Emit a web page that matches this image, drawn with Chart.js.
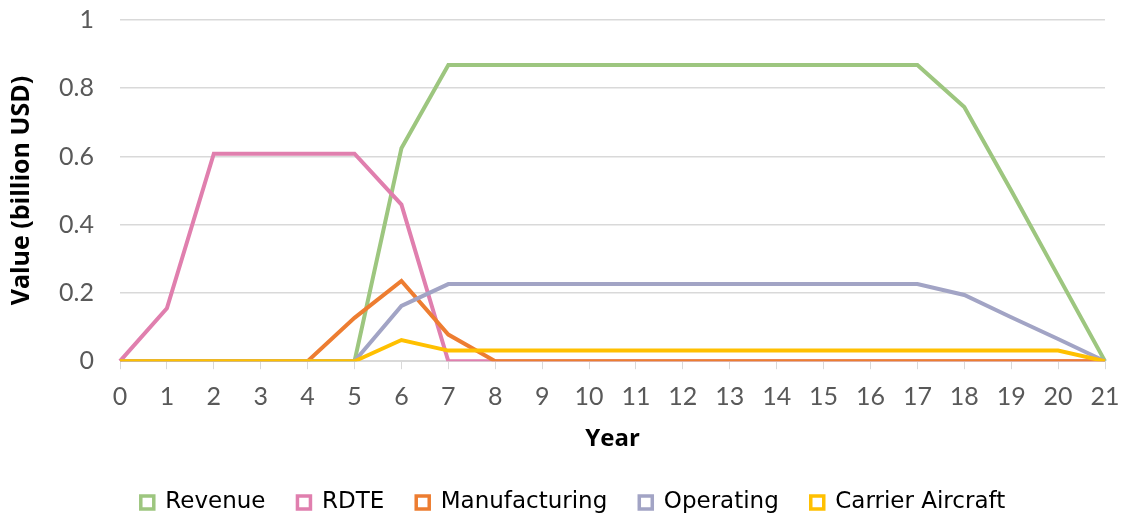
<!DOCTYPE html>
<html lang="en">
<head>
  <meta charset="UTF-8" />
  <title>Cash flow by year</title>
  <style>
    * { margin: 0; padding: 0; box-sizing: border-box; }
    body { background: #ffffff; width: 1133px; height: 514px; overflow: hidden; }
    .chart-box { position: relative; width: 1133px; height: 514px; }
  </style>
</head>
<body>
  <div class="chart-box">
    <canvas id="cashChart"></canvas>
  </div>

  <script src="https://cdn.jsdelivr.net/npm/chart.js"></script>
  <script>
    // Years 0..21
    const years = [0, 1, 2, 3, 4, 5, 6, 7, 8, 9, 10, 11, 12, 13, 14, 15, 16, 17, 18, 19, 20, 21];

    // Values in billion USD
    const revenue       = [0, 0, 0, 0, 0, 0, 0.624, 0.868, 0.868, 0.868, 0.868, 0.868, 0.868, 0.868, 0.868, 0.868, 0.868, 0.868, 0.745, 0.5, 0.25, 0];
    const rdte          = [0, 0.155, 0.608, 0.608, 0.608, 0.608, 0.459, 0, 0, 0, 0, 0, 0, 0, 0, 0, 0, 0, 0, 0, 0, 0];
    const manufacturing = [0, 0, 0, 0, 0, 0.127, 0.235, 0.078, 0, 0, 0, 0, 0, 0, 0, 0, 0, 0, 0, 0, 0, 0];
    const operating     = [0, 0, 0, 0, 0, 0, 0.162, 0.226, 0.226, 0.226, 0.226, 0.226, 0.226, 0.226, 0.226, 0.226, 0.226, 0.226, 0.194, 0.129, 0.065, 0];
    const carrier       = [0, 0, 0, 0, 0, 0, 0.062, 0.031, 0.031, 0.031, 0.031, 0.031, 0.031, 0.031, 0.031, 0.031, 0.031, 0.031, 0.031, 0.031, 0.031, 0];

    const yTicks = [0, 0.2, 0.4, 0.6, 0.8, 1];

    const TICK_FONT = 'Lato, "Open Sans", sans-serif';
    const TITLE_FONT = '"Open Sans", Lato, sans-serif';
    const LEGEND_FONT = '"DejaVu Sans", sans-serif';
    const gridGray = '#d9d9d9';

    // later series sit on top
    const series = [
      { label: 'Revenue',          data: revenue,       color: '#9dc67f', order: 5 },
      { label: 'RDTE',             data: rdte,          color: '#e07fae', order: 4 },
      { label: 'Manufacturing',    data: manufacturing, color: '#ed7d31', order: 3 },
      { label: 'Operating',        data: operating,     color: '#a2a4c5', order: 2 },
      { label: 'Carrier Aircraft', data: carrier,       color: '#ffc000', order: 1 }
    ];

    const ctx = document.getElementById('cashChart').getContext('2d');
    new Chart(ctx, {
      type: 'line',
      data: {
        labels: years.map(String),
        datasets: series.map(s => ({
          label: s.label,
          data: s.data,
          borderColor: s.color,
          backgroundColor: s.color,
          borderWidth: 4,
          pointRadius: 0,
          tension: 0,
          fill: false,
          order: s.order
        }))
      },
      options: {
        responsive: true,
        maintainAspectRatio: false,
        animation: false,
        layout: { padding: { top: 20, right: 0, bottom: -10, left: 13 } },
        plugins: {
          tooltip: { enabled: false },
          legend: {
            position: 'bottom',
            labels: {
              font: { family: LEGEND_FONT, size: 23 },
              color: '#000000',
              boxWidth: 13,
              boxHeight: 13,
              padding: 32,
              // keep the legend in dataset order, hollow boxes
              generateLabels: chart => chart.data.datasets.map((ds, i) => ({
                text: ds.label,
                fillStyle: '#ffffff',
                strokeStyle: ds.borderColor,
                lineWidth: 3.5,
                fontColor: '#000000',
                datasetIndex: i
              }))
            }
          }
        },
        scales: {
          x: {
            type: 'category',
            offset: false,
            afterFit: axis => { axis.paddingLeft = 0; axis.paddingRight = 28; },
            grid: {
              drawOnChartArea: false,
              drawTicks: true,
              tickLength: 8,
              color: gridGray
            },
            border: { display: true, color: gridGray, width: 1 },
            ticks: {
              font: { family: TICK_FONT, size: 25 },
              color: '#595959',
              padding: 13,
              maxRotation: 0,
              autoSkip: false
            },
            title: {
              display: true,
              text: 'Year',
              font: { family: TITLE_FONT, size: 24, weight: 'bold' },
              color: '#000000',
              padding: { top: 0, bottom: 5 }
            }
          },
          y: {
            min: 0,
            max: 1,
            afterBuildTicks: axis => { axis.ticks = yTicks.map(v => ({ value: v })); },
            afterFit: axis => {
              axis.width = 107;
              axis.paddingTop = 0;
              axis.paddingBottom = 0;
            },
            grid: { color: gridGray, lineWidth: 1.5, drawTicks: false },
            border: { display: false },
            ticks: {
              font: { family: TICK_FONT, size: 25 },
              color: '#595959',
              padding: 26,
              callback: v => String(v)
            },
            title: {
              display: true,
              text: 'Value (billion USD)',
              font: { family: TITLE_FONT, size: 25, weight: 'bold' },
              color: '#000000',
              padding: { top: -6, bottom: 4 }
            }
          }
        }
      }
    });
  </script>
</body>
</html>
